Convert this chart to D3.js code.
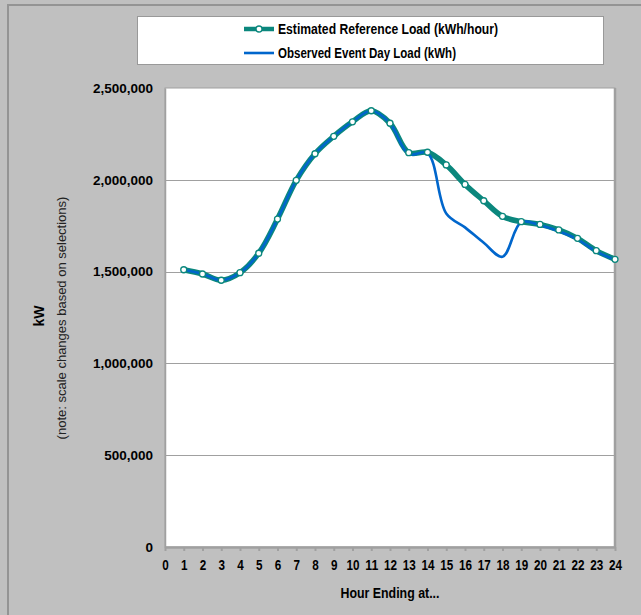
<!DOCTYPE html>
<html>
<head>
<meta charset="utf-8">
<script src="https://cdn.jsdelivr.net/npm/d3@7"></script>
<style>
  body { margin: 0; background: #c0c0c0; }
  .narrow { font-family: "Liberation Sans Narrow", "Liberation Sans", Arial, sans-serif; font-weight: bold; }
  .ytick { font-family: "Liberation Sans", Arial, sans-serif; font-weight: bold; font-size: 13.5px; }
</style>
</head>
<body>
<svg id="chart" width="641" height="615"></svg>
<script>
// ======== Data ========
var hours = [1, 2, 3, 4, 5, 6, 7, 8, 9, 10, 11, 12, 13, 14, 15, 16, 17, 18, 19, 20, 21, 22, 23, 24];
var reference_load = [1510000, 1487000, 1453000, 1494000, 1600000, 1786000, 1997000, 2142000,
    2237000, 2316000, 2376000, 2308000, 2148000, 2150000, 2081000, 1975000, 1886000, 1801000,
    1772000, 1757000, 1727000, 1681000, 1614000, 1567000];
var observed_load = [1510000, 1487000, 1453000, 1494000, 1600000, 1786000, 1997000, 2142000,
    2237000, 2316000, 2376000, 2308000, 2140000, 2145000, 1817000, 1741000, 1657000, 1581000,
    1770000, 1752000, 1720000, 1676000, 1610000, 1565000];
var x_ticks = d3.range(0, 25);
var y_ticks = [0, 500000, 1000000, 1500000, 2000000, 2500000];
var legend_labels = ['Estimated Reference Load (kWh/hour)', 'Observed Event Day Load (kWh)'];

var teal = '#0b877d', blue = '#0066cc', gray = '#a0a0a0';

var svg = d3.select('#chart');

// outer chart border (only top and left visible)
svg.append('path')
    .attr('d', 'M8,641 V5 H641')
    .attr('fill', 'none')
    .attr('stroke', '#949494')
    .attr('stroke-width', 2);

var plot = {left: 165, right: 615, top: 88, bottom: 547};

var x_scale = d3.scaleLinear().domain([0, 24]).range([plot.left, plot.right]);
var y_scale = d3.scaleLinear().domain([0, 2500000]).range([plot.bottom, plot.top]);

// plot area
svg.append('rect')
    .attr('x', plot.left)
    .attr('y', plot.top)
    .attr('width', plot.right - plot.left)
    .attr('height', plot.bottom - plot.top)
    .attr('fill', '#fff')
    .attr('stroke', gray)
    .attr('stroke-width', 1);
svg.append('line')
    .attr('x1', plot.right).attr('x2', plot.right)
    .attr('y1', plot.top).attr('y2', plot.bottom)
    .attr('stroke', gray).attr('stroke-width', 2.5);

// gridlines
svg.append('g')
    .selectAll('line')
    .data(y_ticks.slice(1, -1))
    .enter()
    .append('line')
    .attr('x1', plot.left)
    .attr('x2', plot.right)
    .attr('y1', function (d) { return Math.round(y_scale(d)) + 0.5; })
    .attr('y2', function (d) { return Math.round(y_scale(d)) + 0.5; })
    .attr('stroke', gray);

// y axis
var y_axis = svg.append('g')
    .attr('transform', 'translate(' + plot.left + ',0)')
    .call(d3.axisLeft(y_scale).tickValues(y_ticks).tickSize(0).tickPadding(12)
        .tickFormat(d3.format(',')));
y_axis.select('.domain').attr('stroke', gray).attr('stroke-width', 1.5);
y_axis.selectAll('text').attr('class', 'ytick').attr('fill', '#000');

// x axis
var x_axis = svg.append('g')
    .attr('transform', 'translate(0,' + plot.bottom + ')')
    .call(d3.axisBottom(x_scale).tickValues(x_ticks).tickSize(4).tickPadding(9).tickSizeOuter(0));
x_axis.select('.domain').attr('stroke', gray).attr('stroke-width', 2.5);
x_axis.selectAll('.tick line').attr('stroke', gray).attr('stroke-width', 2);
// condensed look: squeeze each label to the narrow width seen in the picture
x_axis.selectAll('text')
    .attr('class', 'narrow')
    .attr('font-size', 14)
    .attr('fill', '#000')
    .attr('textLength', function (d) { return d < 10 ? 6.5 : 13; })
    .attr('lengthAdjust', 'spacingAndGlyphs');

// axis titles
svg.append('text')
    .attr('class', 'narrow')
    .attr('x', (plot.left + plot.right) / 2)
    .attr('y', 598)
    .attr('text-anchor', 'middle')
    .attr('font-size', 15)
    .attr('fill', '#000')
    .attr('textLength', 99)
    .attr('lengthAdjust', 'spacingAndGlyphs')
    .text('Hour Ending at...');

svg.append('text')
    .attr('transform', 'translate(44,316) rotate(-90)')
    .attr('text-anchor', 'middle')
    .attr('font-family', 'Liberation Sans, Arial, sans-serif')
    .attr('font-weight', 'bold')
    .attr('font-size', 14)
    .attr('fill', '#000')
    .text('kW');
svg.append('text')
    .attr('transform', 'translate(66,318) rotate(-90)')
    .attr('text-anchor', 'middle')
    .attr('font-family', 'Liberation Sans, Arial, sans-serif')
    .attr('font-size', 13)
    .attr('fill', '#222')
    .text('(note: scale changes based on selections)');

// series
var line = d3.line()
    .x(function (d) { return x_scale(d.hour); })
    .y(function (d) { return y_scale(d.value); })
    .curve(d3.curveCatmullRom.alpha(0.5));

var ref_data = hours.map(function (h, i) { return {hour: h, value: reference_load[i]}; });
var obs_data = hours.map(function (h, i) { return {hour: h, value: observed_load[i]}; });

svg.append('path')
    .datum(ref_data)
    .attr('d', line)
    .attr('fill', 'none')
    .attr('stroke', teal)
    .attr('stroke-width', 5.5)
    .attr('stroke-linejoin', 'round');

svg.append('path')
    .datum(obs_data)
    .attr('d', line)
    .attr('fill', 'none')
    .attr('stroke', blue)
    .attr('stroke-width', 2.6)
    .attr('stroke-linejoin', 'round');

svg.append('g')
    .selectAll('circle')
    .data(ref_data)
    .enter()
    .append('circle')
    .attr('cx', function (d) { return x_scale(d.hour); })
    .attr('cy', function (d) { return y_scale(d.value); })
    .attr('r', 3)
    .attr('fill', '#fff')
    .attr('stroke', teal)
    .attr('stroke-width', 1.3);

// ======== Legend ========
var legend = svg.append('g');
legend.append('rect')
    .attr('x', 137.5)
    .attr('y', 16.5)
    .attr('width', 466)
    .attr('height', 48)
    .attr('fill', '#fff')
    .attr('stroke', '#999');

var legend_widths = [220, 178];

var legend_rows = legend.selectAll('g.row')
    .data(legend_labels)
    .enter()
    .append('g')
    .attr('class', 'row')
    .attr('transform', function (d, i) { return 'translate(0,' + (29 + i * 24) + ')'; });

legend_rows.append('line')
    .attr('x1', 244).attr('x2', 274)
    .attr('y1', 0).attr('y2', 0)
    .attr('stroke', function (d, i) { return i === 0 ? teal : blue; })
    .attr('stroke-width', function (d, i) { return i === 0 ? 4.5 : 2.6; });

legend_rows.filter(function (d, i) { return i === 0; })
    .append('circle')
    .attr('cx', 259).attr('cy', 0).attr('r', 3)
    .attr('fill', '#fff').attr('stroke', teal).attr('stroke-width', 1.3);

legend_rows.append('text')
    .attr('class', 'narrow')
    .attr('x', 278)
    .attr('y', 0)
    .attr('dy', '0.36em')
    .attr('font-size', 14.5)
    .attr('fill', '#000')
    .attr('textLength', function (d, i) { return legend_widths[i]; })
    .attr('lengthAdjust', 'spacingAndGlyphs')
    .text(function (d) { return d; });
</script>
</body>
</html>
